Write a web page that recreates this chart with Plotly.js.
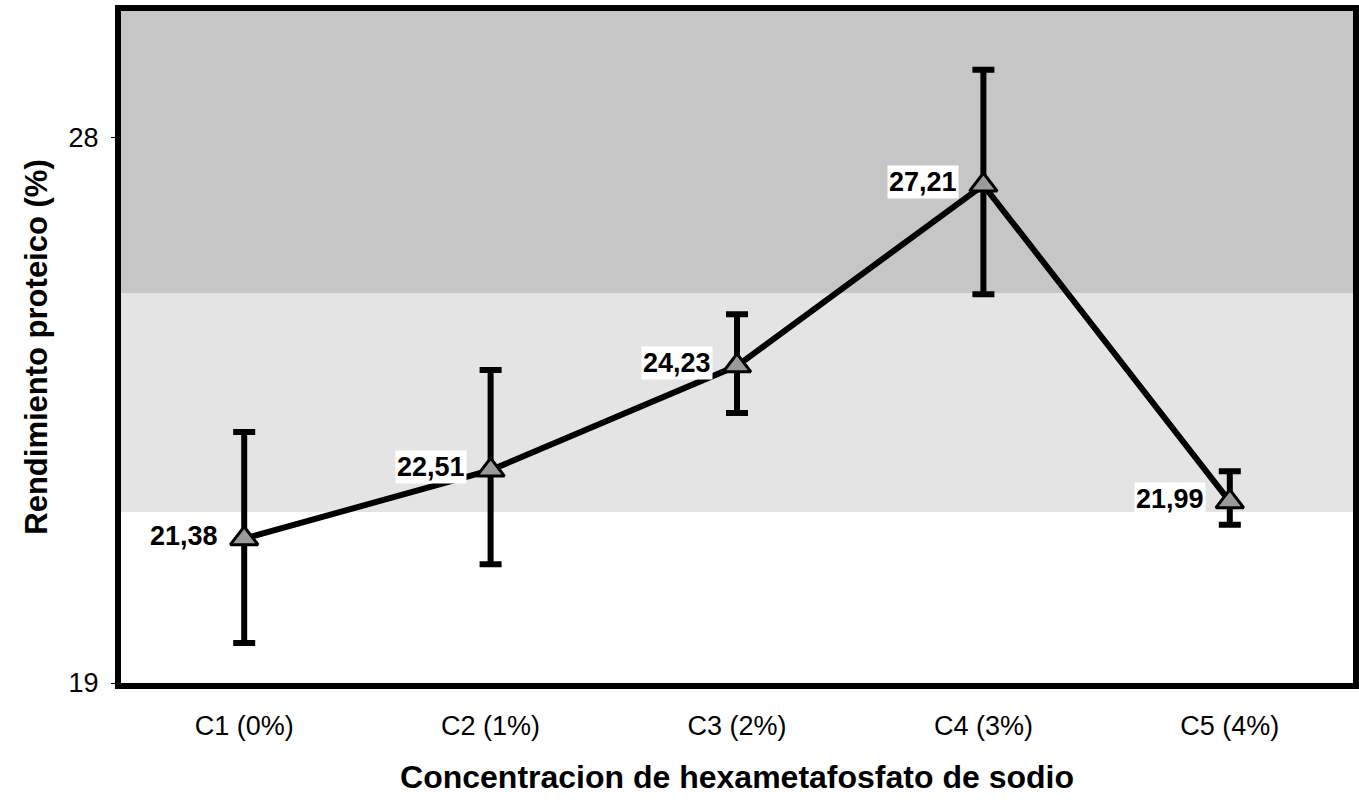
<!DOCTYPE html>
<html>
<head>
<meta charset="utf-8">
<script src="https://cdn.plot.ly/plotly-3.0.1.min.js"></script>
<style>html,body{margin:0;padding:0;background:#fff;}#chart{width:1359px;height:803px;}</style>
</head>
<body>
<div id="chart"></div>
<script>
const categories = ["C1 (0%)", "C2 (1%)", "C3 (2%)", "C4 (3%)", "C5 (4%)"];
const values = [21.38, 22.51, 24.23, 27.21, 21.99];
const labels = ["21,38", "22,51", "24,23", "27,21", "21,99"];
const errPlus = [1.76, 1.65, 0.85, 1.9, 0.5];
const errMinus = [1.72, 1.55, 0.78, 1.8, 0.38];
const yTicks = [19, 28];
const bandEdges = [30.1, 25.43, 21.82];

const trace = {
  x: categories,
  y: values,
  type: "scatter",
  mode: "lines+markers",
  line: {color: "#000", width: 6},
  marker: {symbol: "triangle-up", size: 24, color: "#9a9a9a", line: {color: "#000", width: 3}},
  error_y: {type: "data", symmetric: false, array: errPlus, arrayminus: errMinus,
            color: "#000", thickness: 6, width: 11},
  cliponaxis: false,
  hoverinfo: "skip"
};

const annotations = categories.map((c, i) => ({
  x: c, y: values[i], xref: "x", yref: "y",
  text: labels[i], showarrow: false,
  xanchor: "right", yanchor: "middle", xshift: -24, yshift: 3,
  bgcolor: "#fff", borderpad: 1,
  font: {family: "Liberation Sans, Arial, sans-serif", size: 27, color: "#000", weight: "bold"}
}));

const shapes = [
  {type: "rect", xref: "paper", yref: "y", x0: 0, x1: 1, y0: bandEdges[1], y1: bandEdges[0],
   fillcolor: "#c6c6c6", line: {width: 0}, layer: "below"},
  {type: "rect", xref: "paper", yref: "y", x0: 0, x1: 1, y0: bandEdges[2], y1: bandEdges[1],
   fillcolor: "#e4e4e4", line: {width: 0}, layer: "below"}
];

const layout = {
  width: 1359, height: 803,
  margin: {l: 121, r: 6, t: 11, b: 120},
  paper_bgcolor: "#fff", plot_bgcolor: "#fff",
  showlegend: false,
  font: {family: "Liberation Sans, Arial, sans-serif", color: "#000"},
  xaxis: {
    type: "category", range: [-0.5, 4.5],
    showline: true, mirror: true, linecolor: "#000", linewidth: 6,
    showgrid: false, zeroline: false, ticks: "",
    tickfont: {size: 27, color: "#000"}, ticklabelstandoff: 14,
    title: {text: "Concentracion de hexametafosfato de sodio",
            font: {size: 32, color: "#000", weight: "bold"}, standoff: 27}
  },
  yaxis: {
    range: [19, 30.08], tickvals: yTicks, ticktext: yTicks.map(String),
    showline: true, mirror: true, linecolor: "#000", linewidth: 6,
    showgrid: false, zeroline: false, ticks: "outside", ticklen: 4, tickcolor: "#000", tickwidth: 1,
    tickfont: {size: 27, color: "#000"}, ticklabelstandoff: 7,
    title: {text: "Rendimiento proteico (%)",
            font: {size: 31, color: "#000", weight: "bold"}, standoff: 14}
  },
  shapes: shapes,
  annotations: annotations
};

Plotly.newPlot("chart", [trace], layout, {displayModeBar: false, staticPlot: true});
</script>
</body>
</html>
